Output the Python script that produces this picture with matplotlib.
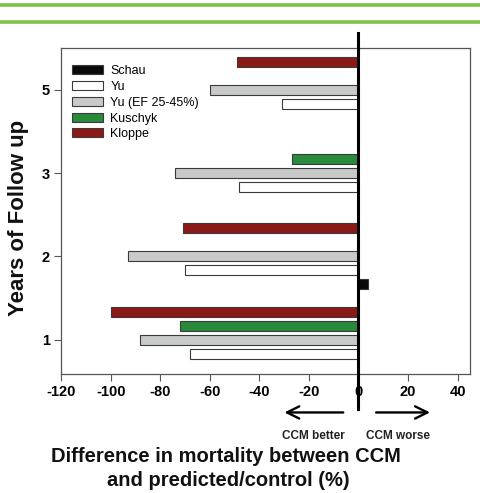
import numpy as np
import matplotlib
matplotlib.use('Agg')
import matplotlib.pyplot as plt
from matplotlib.lines import Line2D

plt.rcParams['font.family'] = ['Liberation Sans', 'DejaVu Sans']
plt.rcParams['axes.unicode_minus'] = False

# data (difference in mortality, %)
years = ['1', '2', '3', '5']
schau = [np.nan, 4, np.nan, np.nan]
yu = [-68, -70, -48, -31]
yu_ef = [-88, -93, -74, -60]
kuschyk = [-72, np.nan, -27, np.nan]
kloppe = [-100, -71, np.nan, -49]

series = [('Schau', schau, '#0a0a0a'),
          ('Yu', yu, '#ffffff'),
          ('Yu (EF 25-45%)', yu_ef, '#c8c9c9'),
          ('Kuschyk', kuschyk, '#2a8a3c'),
          ('Kloppe', kloppe, '#8b1a17')]


def main():
    fig = plt.figure(figsize=(4.81, 4.93), dpi=100)
    ax = fig.add_axes([0.127, 0.2414, 0.850, 0.6612])

    pos = np.arange(1, len(years) + 1)
    slot = 0.168
    for i, (name, vals, col) in enumerate(series):
        ax.barh(pos + (i - 2) * slot, vals, height=0.12, color=col,
                edgecolor='#3a3a3a', linewidth=0.8, label=name)

    ax.set_xlim(-120, 45)
    ax.set_ylim(0.59, 4.5)
    ax.set_xticks(np.arange(-120, 41, 20))
    ax.set_yticks(pos)
    ax.set_yticklabels(years)
    for lab in ax.get_xticklabels() + ax.get_yticklabels():
        lab.set_fontweight('bold')
        lab.set_fontsize(10.5)
    ax.tick_params(axis='both', direction='out', length=5, width=0.8,
                   color='#555555', pad=3)
    for sp in ax.spines.values():
        sp.set_color('#555555')
        sp.set_linewidth(0.9)

    # zero line sticking out of the box
    ax.axvline(0, ymin=-0.107, ymax=1.046, color='black', lw=2.2,
               clip_on=False, zorder=5)

    ax.legend(loc='upper left', bbox_to_anchor=(0.027, 0.947), frameon=False,
              fontsize=9, handlelength=2.5, handleheight=0.72,
              handletextpad=0.55, labelspacing=0.3, borderpad=0,
              borderaxespad=0)

    # arrows below the axis
    ax.annotate('', xy=(-31, -0.118), xytext=(-5, -0.118),
                xycoords=('data', 'axes fraction'),
                arrowprops=dict(arrowstyle='->', lw=1.7, color='black',
                                mutation_scale=22))
    ax.annotate('', xy=(30, -0.118), xytext=(6, -0.118),
                xycoords=('data', 'axes fraction'),
                arrowprops=dict(arrowstyle='->', lw=1.7, color='black',
                                mutation_scale=22))
    ax.text(-18, -0.19, 'CCM better', transform=ax.get_xaxis_transform(),
            ha='center', va='center', fontsize=8.5, fontweight='bold',
            color='#222222')
    ax.text(16, -0.19, 'CCM worse', transform=ax.get_xaxis_transform(),
            ha='center', va='center', fontsize=8.5, fontweight='bold',
            color='#222222')

    fig.text(0.47, 1 - 457 / 493, 'Difference in mortality between CCM',
             ha='center', va='center', fontsize=14.5, fontweight='bold',
             color='#111111')
    fig.text(0.474, 1 - 481 / 493, 'and predicted/control (%)',
             ha='center', va='center', fontsize=14.5, fontweight='bold',
             color='#111111')
    fig.text(19 / 481, 1 - 218 / 493, 'Years of Follow up', rotation=90,
             ha='center', va='center', fontsize=16, fontweight='bold',
             color='#111111')

    # green rules at the top
    for yy in (1 - 5 / 493, 1 - 22 / 493):
        fig.add_artist(Line2D([0, 1], [yy, yy], transform=fig.transFigure,
                              color='#7dc24b', lw=2.6))

    fig.savefig('out.png', dpi=100)


if __name__ == "__main__":
    main()
